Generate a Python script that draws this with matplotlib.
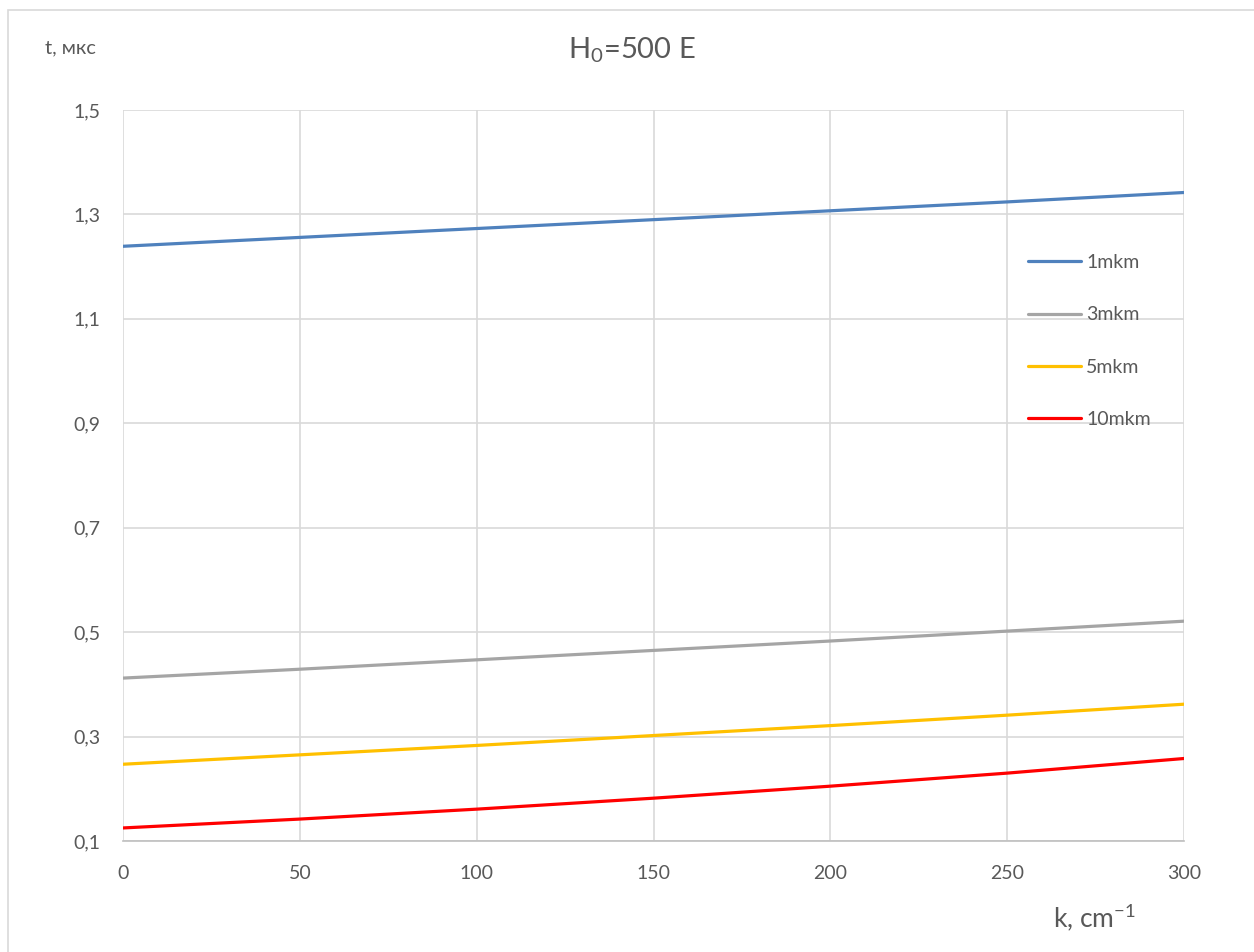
import matplotlib.pyplot as plt
from matplotlib.patches import Rectangle

plt.rcParams['font.family'] = ['Lato', 'DejaVu Sans']

k = [0, 50, 100, 150, 200, 250, 300]
t_1mkm = [1.239, 1.256, 1.273, 1.290, 1.307, 1.324, 1.342]
t_3mkm = [0.412, 0.429, 0.447, 0.465, 0.483, 0.502, 0.521]
t_5mkm = [0.247, 0.265, 0.283, 0.302, 0.321, 0.341, 0.362]
t_10mkm = [0.125, 0.142, 0.161, 0.182, 0.205, 0.230, 0.258]

y_ticks = [0.1, 0.3, 0.5, 0.7, 0.9, 1.1, 1.3, 1.5]
y_labels = ['0,1', '0,3', '0,5', '0,7', '0,9', '1,1', '1,3', '1,5']

txt = '#595959'

fig = plt.figure(figsize=(12.54, 9.52), dpi=100)
ax = fig.add_axes([123/1254, 1 - 841/952, 1061/1254, 731/952])

ax.plot(k, t_1mkm, color='#4F81BD', lw=2.3, label='1mkm', solid_capstyle='round')
ax.plot(k, t_3mkm, color='#A5A5A5', lw=2.3, label='3mkm', solid_capstyle='round')
ax.plot(k, t_5mkm, color='#FFC000', lw=2.3, label='5mkm', solid_capstyle='round')
ax.plot(k, t_10mkm, color='#FF0000', lw=2.3, label='10mkm', solid_capstyle='round')

ax.set_xlim(0, 300)
ax.set_ylim(0.1, 1.5)
ax.set_xticks(k)
ax.set_yticks(y_ticks)
ax.set_yticklabels(y_labels)
ax.tick_params(length=0, labelsize=14, labelcolor=txt)
ax.tick_params(axis='y', pad=16)
ax.tick_params(axis='x', pad=17)
ax.grid(True, color='#D9D9D9', lw=1.2)
ax.set_axisbelow(True)
for s in ['top', 'right', 'left']:
    ax.spines[s].set_visible(False)
ax.spines['bottom'].set_color('#BFBFBF')
ax.spines['bottom'].set_linewidth(1.2)

fig.text(632/1254, 1 - 50/952, 'H$_\\mathregular{0}$=500 E', ha='center', va='center',
         fontsize=21, color=txt)
fig.text(45/1254, 1 - 48/952, 't, мкс', ha='left', va='center',
         fontsize=14.5, color=txt)
fig.text(1094/1254, 1 - 917/952, 'k, cm$^{\\mathregular{-1}}$', ha='center', va='center',
         fontsize=19, color=txt)

ax.legend(loc='upper left', bbox_to_anchor=(1028/1254, 1 - 254/952),
          bbox_transform=fig.transFigure, frameon=False, fontsize=14,
          labelcolor=txt, labelspacing=1.82, handlelength=2.7,
          handletextpad=0.3, borderpad=0, borderaxespad=0)

fig.patches.append(Rectangle((8/1254, -0.05), 1.1, 1 - 10/952 + 0.05,
                             transform=fig.transFigure, fill=False,
                             edgecolor='#D9D9D9', lw=1.2))

fig.savefig('out.png', dpi=100)
